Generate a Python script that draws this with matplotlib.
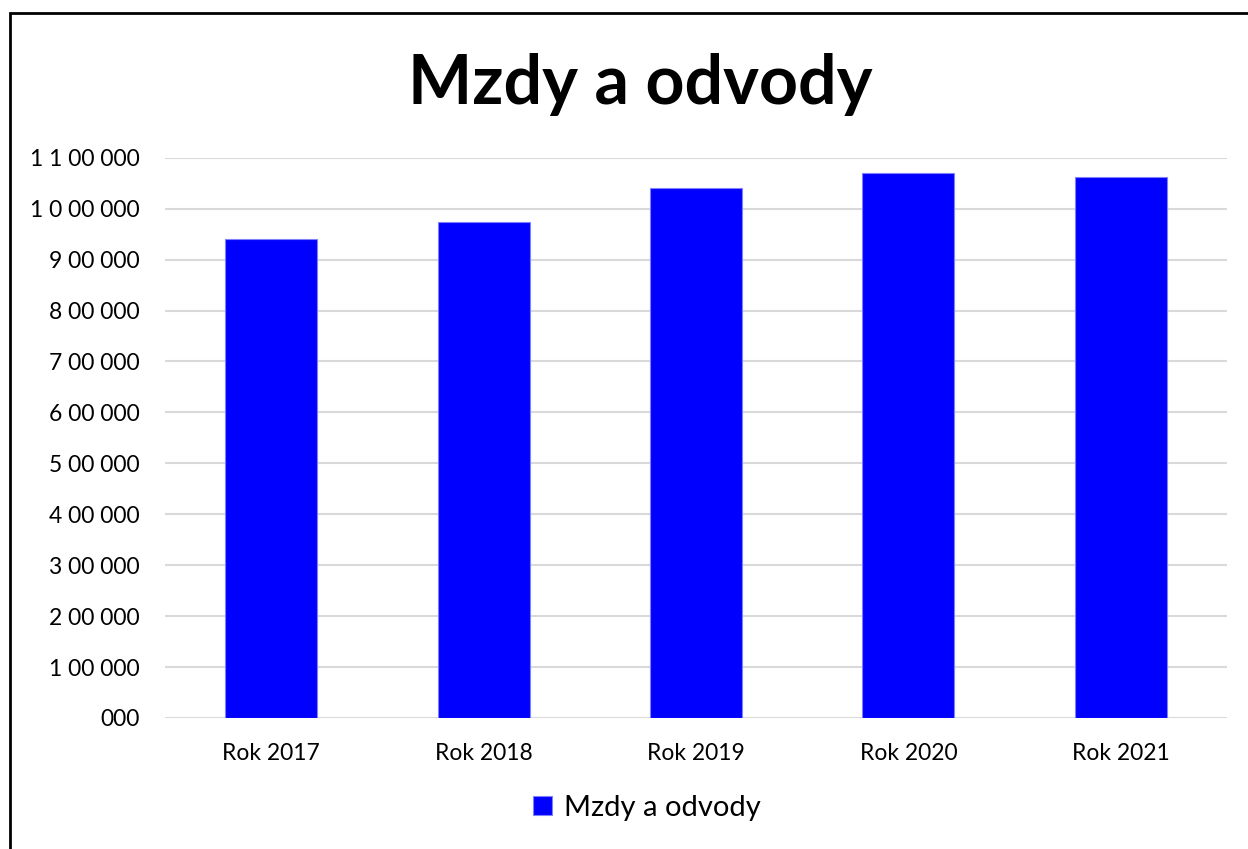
import matplotlib
matplotlib.use("Agg")
import matplotlib.pyplot as plt
from matplotlib.ticker import FuncFormatter, MultipleLocator
from matplotlib.patches import Rectangle

categories = ["Rok 2017", "Rok 2018", "Rok 2019", "Rok 2020", "Rok 2021"]
values = [940500, 973200, 1039900, 1069000, 1062700]
series_name = "Mzdy a odvody"
title = "Mzdy a odvody"

plt.rcParams['font.family'] = ['Lato', 'DejaVu Sans']

def indian_fmt(v, pos=None):
    n = int(round(v))
    last3 = f"{n % 1000:03d}"
    rest = n // 1000
    if rest == 0:
        return last3
    mid = rest % 100
    top = rest // 100
    if top == 0:
        return f"{mid} {last3}"
    return " ".join(list(str(top))) + f" {mid:02d} {last3}"

fig = plt.figure(figsize=(12.48, 8.49), dpi=100)
ax = fig.add_axes([165/1248, 1 - 718/849, (1227-165)/1248, (718-157.7)/849])

x = range(len(categories))
ax.bar(x, values, width=0.433, color="#0000ff", edgecolor="#8080ff", linewidth=0.8,
       label=series_name, zorder=3)

ax.set_xlim(-0.5, len(categories) - 0.5)
ax.set_ylim(0, 1100000)
ax.yaxis.set_major_locator(MultipleLocator(100000))
ax.yaxis.set_major_formatter(FuncFormatter(indian_fmt))
ax.set_xticks(list(x))
ax.set_xticklabels(categories)
ax.grid(axis="y", color="#d9d9d9", linewidth=1.5, zorder=0)
for s in ax.spines.values():
    s.set_visible(False)
ax.tick_params(axis="both", length=0, labelsize=16.5, colors="black")
ax.tick_params(axis="y", pad=18.5)
ax.tick_params(axis="x", pad=18)

fig.text(640/1248, 1 - 85/849, title, ha="center", va="center",
         fontsize=49, fontweight="bold", color="black")

leg = fig.legend(loc="center", bbox_to_anchor=(647/1248, 1 - 808/849), frameon=False,
                 fontsize=21, handlelength=0.65, handleheight=0.65, handletextpad=0.4)

# outer chart border (partially cropped)
fig.patches.append(Rectangle((10/1248, -0.05), 1.2, 1 - 13/849 + 0.05,
                             transform=fig.transFigure, fill=False,
                             edgecolor="black", linewidth=2))

fig.savefig("out.png", dpi=100, facecolor="white")
